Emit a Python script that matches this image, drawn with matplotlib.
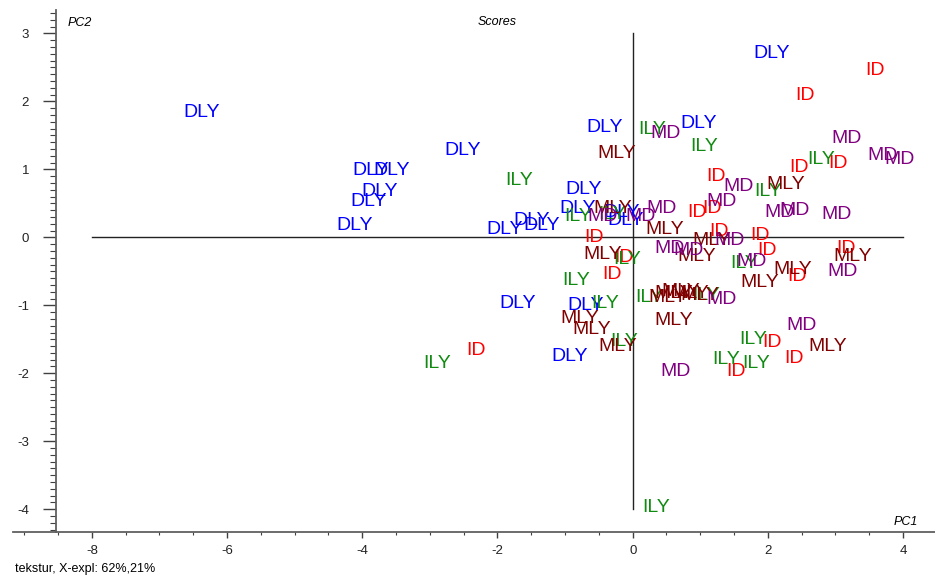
import matplotlib
matplotlib.use('Agg')
import matplotlib.pyplot as plt
from matplotlib.ticker import MultipleLocator

plt.rcParams['font.family'] = ['Liberation Sans', 'DejaVu Sans']
plt.rcParams['axes.unicode_minus'] = False

# PCA scores (PC1, PC2), one list pair per sample group
dly_pc1 = [-6.37, 2.05, -3.87, -3.56, -3.75, -3.90, -4.11, -2.51, -0.42, 0.97,
           -0.72, -1.90, -1.50, -1.34, -0.82, -0.16, -0.11, -1.70, -0.69, -0.93]
dly_pc2 = [1.83, 2.71, 0.98, 0.98, 0.67, 0.52, 0.18, 1.27, 1.62, 1.68,
           0.71, 0.11, 0.24, 0.18, 0.42, 0.36, 0.24, -0.97, -1.01, -1.76]

id_pc1 = [3.58, 2.55, 2.46, 3.04, 1.23, 0.95, 1.17, 1.28, 1.88, 1.99,
          3.16, 2.43, 2.06, 2.39, 1.53, -0.57, -0.13, -0.31, -2.32]
id_pc2 = [2.46, 2.09, 1.02, 1.08, 0.89, 0.37, 0.43, 0.09, 0.02, -0.20,
          -0.16, -0.58, -1.54, -1.78, -1.98, -0.01, -0.29, -0.54, -1.67]

ily_pc1 = [0.29, 1.05, -1.68, 2.79, 2.00, -0.81, -0.31, -0.08, -0.84, -0.41,
           -0.13, -2.89, 0.34, 1.65, 1.78, 1.38, 1.82, 0.24, 1.08]
ily_pc2 = [1.58, 1.34, 0.84, 1.14, 0.67, 0.31, 0.34, -0.32, -0.63, -0.98,
           -1.53, -1.86, -3.97, -0.39, -1.51, -1.80, -1.85, -0.88, -0.85]

mly_pc1 = [-0.23, 2.27, 0.48, 1.17, 0.95, -0.44, -0.29, -0.78, -0.60, -0.22,
           0.60, 1.88, 2.37, 3.26, 2.89, 0.60, 0.71, 0.84, 0.99, 0.52]
mly_pc2 = [1.23, 0.77, 0.12, -0.04, -0.28, -0.26, 0.43, -1.19, -1.36, -1.61,
           -1.22, -0.67, -0.48, -0.28, -1.61, -0.82, -0.79, -0.82, -0.86, -0.89]

md_pc1 = [0.49, 3.17, 3.70, 3.95, 1.56, 1.32, 2.18, 2.40, 3.02, 1.44,
          0.43, 0.55, 0.82, 1.76, 3.11, 1.32, 2.50, 0.64, -0.44, 0.11]
md_pc2 = [1.53, 1.45, 1.20, 1.15, 0.74, 0.53, 0.36, 0.40, 0.34, -0.04,
          0.43, -0.16, -0.20, -0.36, -0.50, -0.92, -1.29, -1.98, 0.30, 0.31]

groups = [('DLY', dly_pc1, dly_pc2, '#0000ff'),
          ('ID', id_pc1, id_pc2, '#ff0000'),
          ('ILY', ily_pc1, ily_pc2, '#108a10'),
          ('MLY', mly_pc1, mly_pc2, '#800000'),
          ('MD', md_pc1, md_pc2, '#800080')]

fig = plt.figure(figsize=(9.35, 5.75), dpi=100)
ax = fig.add_axes([13/935, 43/575, 922/935, 522/575])
ax.set_xlim(-9.167, 4.472)
ax.set_ylim(-4.334, 3.343)

for name, xs, ys, col in groups:
    for x, y in zip(xs, ys):
        ax.text(x, y, name, color=col, fontsize=14, ha='center', va='center')

# origin lines
ax.plot([-8, 4], [0, 0], color='#222222', lw=1)
ax.plot([0, 0], [-4, 3], color='#222222', lw=1)

ax.spines['top'].set_visible(False)
ax.spines['right'].set_visible(False)
ax.spines['left'].set_position(('data', -8.53))
for s in ['left', 'bottom']:
    ax.spines[s].set_color('#606060')
    ax.spines[s].set_linewidth(1.3)

ax.set_xticks([-8, -6, -4, -2, 0, 2, 4])
ax.set_yticks([-4, -3, -2, -1, 0, 1, 2, 3])
ax.xaxis.set_minor_locator(MultipleLocator(0.5))
ax.yaxis.set_minor_locator(MultipleLocator(0.1))
ax.tick_params(axis='y', which='major', length=9.5, width=1, color='#404040',
               pad=10, labelsize=9.5, labelcolor='#222222')
ax.tick_params(axis='y', which='minor', length=4, width=0.8, color='#404040')
ax.tick_params(axis='x', which='major', length=4, width=1, color='#404040',
               pad=5, labelsize=9.5, labelcolor='#222222')
ax.tick_params(axis='x', which='minor', length=2, width=0.8, color='#404040')

fig.text(68/935, 1 - 23/575, 'PC2', fontsize=9, style='italic', ha='left', va='center')
fig.text(497/935, 1 - 22/575, 'Scores', fontsize=9, style='italic', ha='center', va='center')
fig.text(918/935, 1 - 522/575, 'PC1', fontsize=9, style='italic', ha='right', va='center')
fig.text(15/935, 1 - 569/575, 'tekstur, X-expl: 62%,21%', fontsize=9, ha='left', va='center')

fig.savefig('out.png', dpi=100)
